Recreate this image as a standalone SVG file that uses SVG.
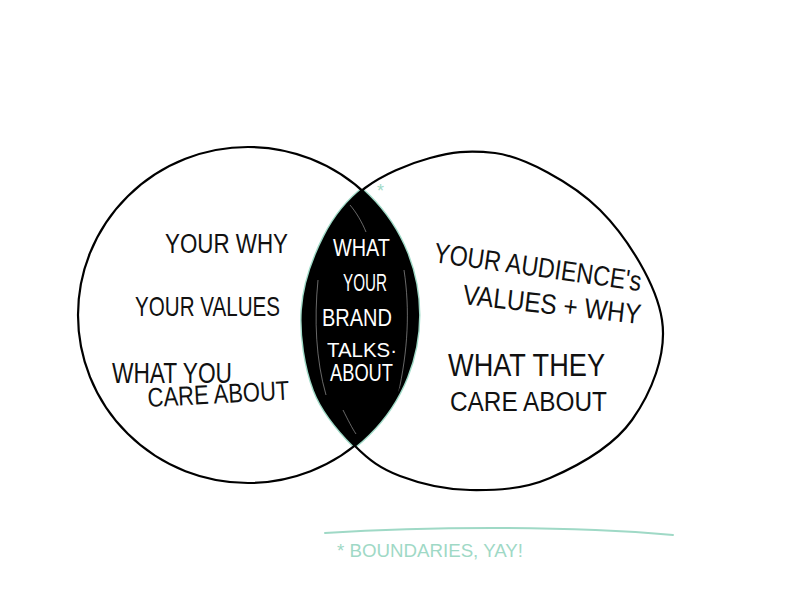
<svg xmlns="http://www.w3.org/2000/svg" width="800" height="600" viewBox="0 0 800 600">
  <style>
    .outline { fill: none; stroke: #000; stroke-width: 2.2; stroke-linejoin: round; }
    .teal { fill: none; stroke: #9fd9c6; stroke-width: 5; }
    .hand { font-family: "Liberation Sans", "DejaVu Sans", sans-serif; fill: #111; }
    .white { font-family: "Liberation Sans", "DejaVu Sans", sans-serif; fill: #fff; }
    .note { font-family: "Liberation Sans", "DejaVu Sans", sans-serif; fill: #9fd9c6; }
    .scratch { fill: none; stroke: #bbb; stroke-width: 0.8; opacity: 0.7; }
  </style>
  <defs>
    <path id="rightShape" d="M365,188 C382.5,174.8 408.3,163.8 430,158 C451.7,152.2 466.7,150 495,153 C523.3,156.7 572.2,182.2 600,210 C627.8,237.8 656.7,285 662,320 C667.3,355 650.7,393.7 632,420 C613.3,446.3 577,466.3 550,478 C523,489.7 495,490.3 470,490 C445,489.7 419.2,483.3 400,476 C380.8,468.7 369.2,460.3 355,446 C340.8,431.7 323.7,412.7 315,390 C306.3,367.3 301.3,335.5 303,310 C304.7,284.5 314.7,257.3 325,237 C335.3,216.7 347.5,201.2 365,188 Z"/>
    <clipPath id="clipRight"><use href="#rightShape"/></clipPath>
    <clipPath id="clipLeft"><ellipse cx="248" cy="315" rx="170" ry="168"/></clipPath>
  </defs>

  <rect width="800" height="600" fill="#fff"/>

  <g id="overlap">
    <ellipse class="teal" cx="248" cy="315" rx="170" ry="168" clip-path="url(#clipRight)"/>
    <use class="teal" href="#rightShape" clip-path="url(#clipLeft)"/>
    <ellipse cx="248" cy="315" rx="170" ry="168" fill="#000" clip-path="url(#clipRight)"/>
    <path class="scratch" d="M318,280 C314,320 316,360 326,395"/>
    <path class="scratch" d="M404,270 C410,310 408,350 398,395"/>
    <path class="scratch" d="M350,205 C356,212 362,222 366,232"/>
    <path class="scratch" d="M343,410 C348,420 352,428 356,434"/>
  </g>

  <g id="left-circle">
    <ellipse class="outline" cx="248" cy="315" rx="170" ry="168"/>
    <text class="hand" x="165" y="253" font-size="27" textLength="123" lengthAdjust="spacingAndGlyphs">YOUR WHY</text>
    <text class="hand" x="135" y="316" font-size="28" textLength="145" lengthAdjust="spacingAndGlyphs">YOUR VALUES</text>
    <text class="hand" x="112" y="383" font-size="29" textLength="120" lengthAdjust="spacingAndGlyphs">WHAT YOU</text>
    <text class="hand" x="148" y="407" font-size="27" textLength="142" lengthAdjust="spacingAndGlyphs" transform="rotate(-3 148 407)">CARE ABOUT</text>
  </g>

  <g id="right-circle">
    <use class="outline" href="#rightShape"/>
    <text class="hand" x="433" y="262" font-size="28" textLength="209" lengthAdjust="spacingAndGlyphs" transform="rotate(8 433 262)">YOUR AUDIENCE's</text>
    <text class="hand" x="462" y="304" font-size="28" textLength="179" lengthAdjust="spacingAndGlyphs" transform="rotate(6.4 462 304)">VALUES + WHY</text>
    <text class="hand" x="448" y="376" font-size="32" textLength="157" lengthAdjust="spacingAndGlyphs">WHAT THEY</text>
    <text class="hand" x="450" y="411" font-size="27" textLength="157" lengthAdjust="spacingAndGlyphs">CARE ABOUT</text>
  </g>

  <g id="center-label">
    <text class="white" x="333" y="256" font-size="24" textLength="57" lengthAdjust="spacingAndGlyphs">WHAT</text>
    <text class="white" x="343" y="291" font-size="23" textLength="44" lengthAdjust="spacingAndGlyphs">YOUR</text>
    <text class="white" x="322" y="326" font-size="23" textLength="70" lengthAdjust="spacingAndGlyphs">BRAND</text>
    <text class="white" x="327" y="357" font-size="21" textLength="70" lengthAdjust="spacingAndGlyphs">TALKS·</text>
    <text class="white" x="330" y="381" font-size="23" textLength="63" lengthAdjust="spacingAndGlyphs">ABOUT</text>
  </g>

  <g id="footnote">
    <text class="note" x="377" y="197" font-size="18">*</text>
    <path d="M325,533 C420,527 560,525 673,535" fill="none" stroke="#9fd9c6" stroke-width="2" stroke-linecap="round"/>
    <text class="note" x="337" y="557" font-size="18" textLength="186" lengthAdjust="spacingAndGlyphs">* BOUNDARIES, YAY!</text>
  </g>
</svg>
